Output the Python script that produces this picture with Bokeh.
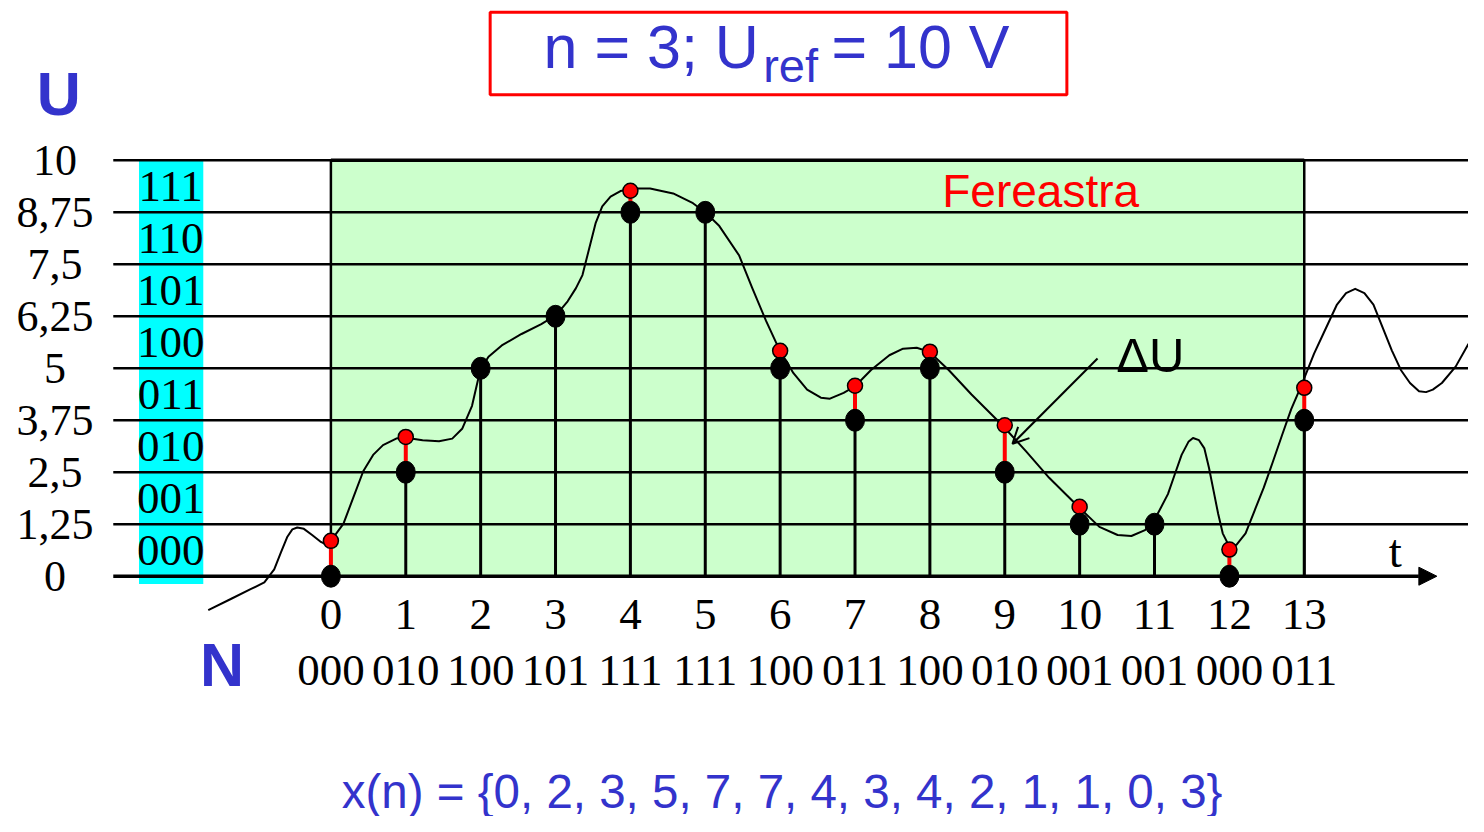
from bokeh.plotting import figure
from bokeh.models import Range1d, Arrow, NormalHead, OpenHead
from bokeh.core.properties import value
from bokeh.embed import file_html
from bokeh.resources import INLINE

# ---------------- data ----------------
u_ref = 10.0
n_bits = 3
sample_index = list(range(14))
codes = [0, 2, 4, 5, 7, 7, 4, 3, 4, 2, 1, 1, 0, 3]
code_labels = ["000", "010", "100", "101", "111", "111", "100",
               "011", "100", "010", "001", "001", "000", "011"]
samples = [0.85, 3.35, 5.0, 6.25, 9.27, 8.75, 5.42, 4.58, 5.40, 3.63, 1.67, 1.25, 0.64, 4.53]
level_values = [0, 1.25, 2.5, 3.75, 5, 6.25, 7.5, 8.75, 10]
level_labels = ["0", "1,25", "2,5", "3,75", "5", "6,25", "7,5", "8,75", "10"]
band_codes = ["000", "001", "010", "011", "100", "101", "110", "111"]
signal_t = [-1.638, -1.330, -1.066, -0.889, -0.757, -0.670, -0.581, -0.515, -0.449, -0.361,
            -0.251, -0.141, -0.079, 0.0, 0.168, 0.300, 0.432, 0.564, 0.696, 0.872,
            0.982, 1.225, 1.444, 1.621, 1.753, 1.885, 1.995, 2.105, 2.282, 2.546,
            2.810, 3.008, 3.162, 3.273, 3.360, 3.448, 3.537, 3.624, 3.735, 3.867,
            4.043, 4.263, 4.571, 4.836, 5.011, 5.188, 5.453, 5.628, 5.812, 5.994,
            6.178, 6.360, 6.544, 6.665, 6.848, 7.001, 7.214, 7.458, 7.642, 7.824,
            7.995, 8.251, 8.556, 8.971, 9.288, 9.593, 9.990, 10.264, 10.507, 10.691,
            10.873, 10.996, 11.088, 11.179, 11.270, 11.362, 11.453, 11.514, 11.594, 11.666,
            11.728, 11.789, 11.850, 11.911, 12.003, 12.094, 12.216, 12.337, 12.459, 12.582,
            12.703, 12.826, 12.948, 13.131, 13.253, 13.437, 13.558, 13.680, 13.803, 13.924,
            14.046, 14.169, 14.290, 14.412, 14.533, 14.626, 14.717, 14.838, 15.022, 15.194]
signal_u = [-0.818, -0.542, -0.307, -0.149, 0.165, 0.559, 0.950, 1.125, 1.172, 1.139,
            0.991, 0.833, 0.778, 0.849, 1.266, 1.894, 2.524, 2.917, 3.153, 3.309,
            3.333, 3.271, 3.248, 3.309, 3.545, 4.097, 4.960, 5.276, 5.550, 5.825,
            6.061, 6.281, 6.611, 6.927, 7.241, 7.870, 8.498, 8.892, 9.127, 9.262,
            9.323, 9.323, 9.205, 8.970, 8.734, 8.420, 7.712, 6.927, 6.139, 5.432,
            4.882, 4.488, 4.292, 4.269, 4.410, 4.568, 4.960, 5.314, 5.472, 5.495,
            5.394, 4.960, 4.370, 3.625, 2.995, 2.366, 1.658, 1.186, 0.991, 0.967,
            1.108, 1.344, 1.658, 1.974, 2.446, 2.917, 3.231, 3.325, 3.271, 3.073,
            2.601, 2.052, 1.502, 1.031, 0.700, 0.755, 1.031, 1.580, 2.130, 2.759,
            3.389, 4.017, 4.528, 5.354, 5.825, 6.533, 6.809, 6.910, 6.809, 6.533,
            5.983, 5.432, 4.960, 4.646, 4.450, 4.427, 4.488, 4.646, 5.040, 5.590]
xn_text = "x(n) = {0, 2, 3, 5, 7, 7, 4, 3, 4, 2, 1, 1, 0, 3}"

step = u_ref / 2 ** n_bits
quantized = [c * step for c in codes]

# ---------------- layout helpers (reference pixel -> data) ----------------
W, H = 1468, 816
REF_W, REF_H = 1484, 832
SX, SY = 75.69, 42.4
OX, OY = 334.0, 587.0


def dx(px):
    return (px - OX) / SX


def dy(py):
    return (OY - py) / SY


BLUE = "#3333CC"
SERIF = value("Liberation Serif")
SANS = value("Liberation Sans")

p = figure(width=W, height=H, output_backend="svg", toolbar_location=None,
           x_range=Range1d(dx(0), dx(REF_W)), y_range=Range1d(dy(REF_H), dy(0)),
           x_axis_location=None, y_axis_location=None, min_border=0,
           outline_line_color=None, background_fill_color="white")
p.grid.visible = False

# cyan code column
p.quad(left=[dx(140)], right=[dx(205)], bottom=[dy(595)], top=[level_values[-1]],
       fill_color="#00FFFF", line_color=None)
# green window
p.quad(left=[sample_index[0]], right=[sample_index[-1]], bottom=[0], top=[u_ref],
       fill_color="#CCFFCC", line_color="black", line_width=2.5)

# horizontal quantisation lines
p.segment(x0=[dx(114)] * 8, x1=[dx(1490)] * 8, y0=level_values[1:], y1=level_values[1:],
          line_color="black", line_width=2.5)
p.segment(x0=[sample_index[0]], x1=[sample_index[-1]], y0=[u_ref], y1=[u_ref],
          line_color="black", line_width=3.5)
# time axis with arrow
p.add_layout(Arrow(x_start=dx(114), y_start=0, x_end=dx(1452), y_end=0,
                   line_color="black", line_width=3.5,
                   end=NormalHead(size=18, fill_color="black", line_color="black")))

# analog signal
p.line(signal_t, signal_u, line_color="black", line_width=2, line_join="round")

# quantisation error (red), stems (black)
p.segment(x0=sample_index, x1=sample_index, y0=quantized, y1=samples,
          line_color="#FF0000", line_width=4)
p.segment(x0=sample_index, x1=sample_index, y0=[0] * 14, y1=quantized,
          line_color="black", line_width=3)
p.scatter(sample_index, samples, size=15, fill_color="#FF0000", line_color="black",
          line_width=1.5)
p.ellipse(sample_index, quantized, width=19, height=22, width_units="screen",
          height_units="screen", fill_color="black", line_color="black")

# y tick labels
p.text(x=[dx(55)] * 9, y=level_values, text=level_labels, text_font=SERIF,
       text_font_size="44px", text_align="center", text_baseline="middle",
       text_color="black")
# band codes
p.text(x=[dx(172)] * 8, y=[(i + 0.5) * step for i in range(8)], text=band_codes,
       text_font=SERIF, text_font_size="45px", text_align="center",
       text_baseline="middle", text_color="black")
# sample index labels and codes
p.text(x=sample_index, y=[dy(626)] * 14, text=[str(i) for i in sample_index],
       text_font=SERIF, text_font_size="45px", text_align="center",
       text_baseline="middle", text_color="black")
p.text(x=sample_index, y=[dy(683)] * 14, text=code_labels,
       text_font=SERIF, text_font_size="45px", text_align="center",
       text_baseline="middle", text_color="black")

# axis letters
p.text(x=[dx(59), dx(224)], y=[dy(95), dy(678)], text=["U", "N"], text_font=SANS,
       text_font_size="61px", text_font_style="bold", text_align="center",
       text_baseline="middle", text_color=BLUE)
p.text(x=[dx(1410)], y=[dy(561)], text=["t"], text_font=SERIF, text_font_size="47px",
       text_align="center", text_baseline="middle", text_color="black")

# title box
p.quad(left=[dx(495)], right=[dx(1078)], bottom=[dy(96)], top=[dy(12)],
       fill_color=None, line_color="#FF0000", line_width=3)
p.text(x=[dx(549)], y=[dy(47)], text=["n = 3; U"], text_font=SANS, text_font_size="61px",
       text_align="left", text_baseline="middle", text_color=BLUE)
p.text(x=[dx(771)], y=[dy(66)], text=["ref"], text_font=SANS, text_font_size="47px",
       text_align="left", text_baseline="middle", text_color=BLUE)
p.text(x=[dx(840)], y=[dy(47)], text=["= 10 V"], text_font=SANS, text_font_size="61px",
       text_align="left", text_baseline="middle", text_color=BLUE)

# window label, delta U with arrow
p.text(x=[dx(952)], y=[dy(194)], text=["Fereastra"], text_font=SANS,
       text_font_size="46px", text_align="left", text_baseline="middle",
       text_color="#FF0000")
p.text(x=[dx(1128)], y=[dy(361)], text=["ΔU"], text_font=SANS,
       text_font_size="49px", text_align="left", text_baseline="middle",
       text_color="black")
p.add_layout(Arrow(x_start=dx(1109), y_start=dy(365), x_end=dx(1023), y_end=dy(452),
                   line_color="black", line_width=2,
                   end=OpenHead(size=16, line_color="black", line_width=2)))

# sequence text
p.text(x=[dx(345)], y=[dy(806)], text=[xn_text], text_font=SANS, text_font_size="47.5px",
       text_align="left", text_baseline="middle", text_color=BLUE)

open("out.html", "w").write(file_html(p, INLINE))
